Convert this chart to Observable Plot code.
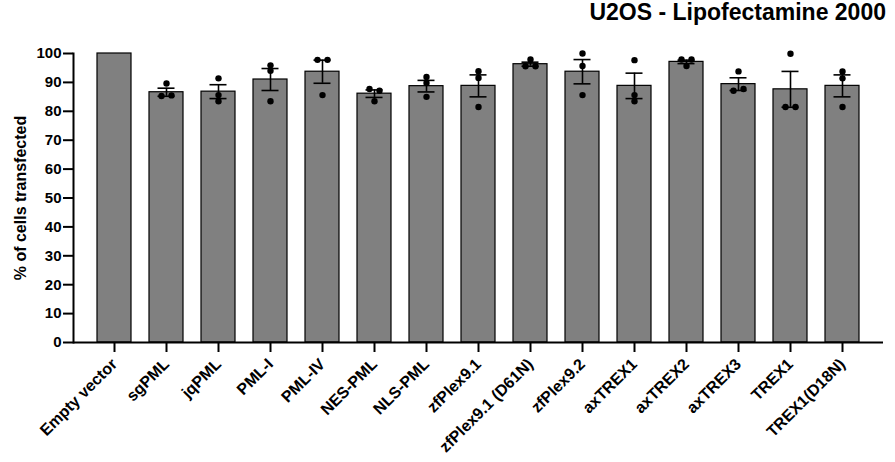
<!DOCTYPE html>
<html>
<head>
<meta charset="utf-8">
<script src="https://cdn.jsdelivr.net/npm/d3@7"></script>
<script src="https://cdn.jsdelivr.net/npm/@observablehq/plot@0.6"></script>
<style>
  body { margin: 0; background: #fff; }
  #wrap { position: relative; width: 895px; height: 462px; }
  #title { position: absolute; right: 9px; top: 0px; font: bold 23px "Liberation Sans", Arial, sans-serif; line-height: 24px; color: #000; white-space: nowrap; }
  svg { display: block; }
</style>
</head>
<body>
<div id="wrap">
  <div id="chart"></div>
  <div id="title">U2OS - Lipofectamine 2000</div>
</div>
<script>
const categories = ["Empty vector", "sgPML", "jqPML", "PML-I", "PML-IV", "NES-PML", "NLS-PML", "zfPlex9.1", "zfPlex9.1 (D61N)", "zfPlex9.2", "axTREX1", "axTREX2", "axTREX3", "TREX1", "TREX1(D18N)"];
const means = [100, 86.6, 86.8, 91.0, 93.7, 86.1, 88.7, 88.8, 96.3, 93.7, 88.8, 97.1, 89.4, 87.6, 88.8];
const sems  = [0, 1.4, 2.4, 3.8, 4.0, 1.3, 2.0, 3.8, 0.7, 4.2, 4.4, 0.6, 2.2, 6.2, 3.8];
const rep1 = [null, 89.6, 91.4, 95.9, 97.8, 87.7, 91.9, 93.9, 97.9, 100.0, 97.7, 97.9, 93.8, 99.9, 93.8];
const rep2 = [null, 85.3, 85.6, 94.0, 97.8, 87.1, 89.8, 91.5, 95.6, 95.7, 85.6, 97.9, 87.1, 81.5, 91.4];
const rep3 = [null, 85.5, 83.5, 83.5, 85.6, 83.5, 85.0, 81.5, 95.6, 85.6, 83.5, 95.7, 87.7, 81.5, 81.5];
const yTicks = [0, 10, 20, 30, 40, 50, 60, 70, 80, 90, 100];
const yLabel = "% of cells transfected";

const bars = categories.map((c, i) => ({cat: c, mean: means[i], sem: sems[i]}));
const errs = bars.filter(d => d.sem > 0);

// replicate points; overlapping values are spread sideways
const pts = [];
categories.forEach((c, i) => {
  const vals = [rep1[i], rep2[i], rep3[i]];
  const side = vals.map(() => 0);
  for (let j = 0; j < vals.length; j++) for (let k = j + 1; k < vals.length; k++) {
    if (vals[j] != null && vals[k] != null && Math.abs(vals[j] - vals[k]) < 1) { side[j] = -1; side[k] = 1; }
  }
  vals.forEach((v, j) => { if (v != null) pts.push({cat: c, v, side: side[j]}); });
});

const font = "'Liberation Sans', Arial, sans-serif";
const dotMark = (s) => Plot.dot(pts.filter(p => p.side === s), {x: "cat", y: "v", r: 3.2, fill: "#000", stroke: "none", dx: s * 5});

const chart = Plot.plot({
  width: 895,
  height: 462,
  marginLeft: 73,
  marginRight: 12,
  marginTop: 53,
  marginBottom: 120,
  style: {fontFamily: font, background: "#fff", color: "#000"},
  x: {domain: categories, paddingInner: 0.355, paddingOuter: 0.365, label: null},
  y: {domain: [0, 100], label: null},
  marks: [
    Plot.barY(bars, {x: "cat", y: "mean", fill: "#808080", stroke: "#000", strokeWidth: 1.2}),
    Plot.ruleX(errs, {x: "cat", y1: d => d.mean - d.sem, y2: d => d.mean + d.sem, stroke: "#000", strokeWidth: 1.6}),
    Plot.tickY(errs, {x: "cat", y: d => d.mean + d.sem, stroke: "#000", strokeWidth: 1.6, insetLeft: 8.5, insetRight: 8.5}),
    Plot.tickY(errs, {x: "cat", y: d => d.mean - d.sem, stroke: "#000", strokeWidth: 1.6, insetLeft: 8.5, insetRight: 8.5}),
    dotMark(-1), dotMark(0), dotMark(1),
    Plot.ruleY([0], {stroke: "#000", strokeWidth: 2}),
    Plot.frame({anchor: "left", stroke: "#000", strokeWidth: 2}),
    Plot.axisY({ticks: yTicks, tickSize: 10, tickPadding: 2, strokeWidth: 2, fontSize: 15, fontWeight: "bold", label: null}),
    Plot.axisX({tickSize: 10, tickPadding: 9, strokeWidth: 2, tickRotate: -45, fontSize: 16, fontWeight: "bold", label: null}),
    Plot.text([yLabel], {frameAnchor: "left", rotate: -90, dx: -53, fontSize: 16, fontWeight: "bold", fill: "#000", textAnchor: "middle"})
  ]
});
document.getElementById("chart").appendChild(chart);
</script>
</body>
</html>
